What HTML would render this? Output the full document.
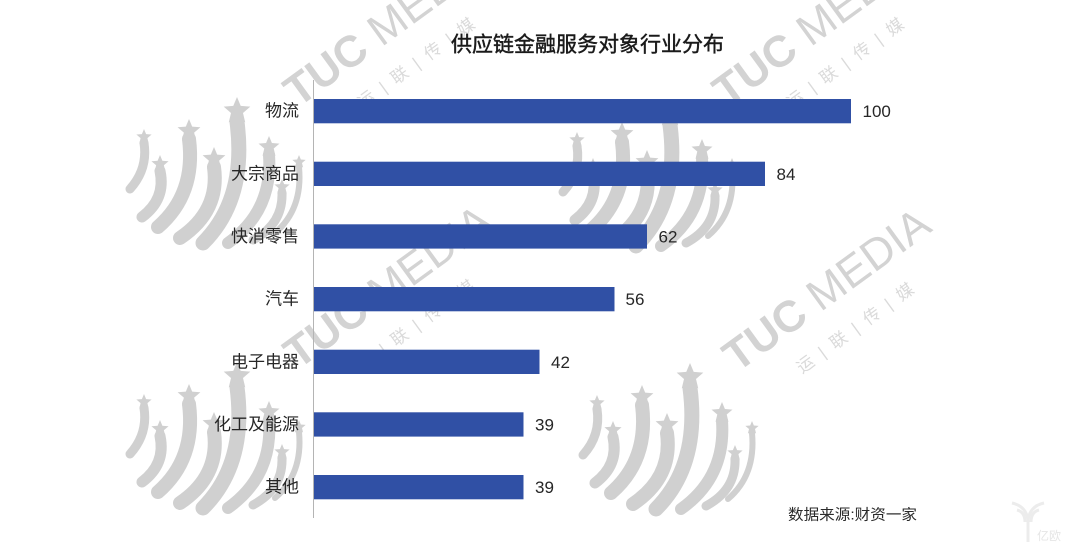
<!DOCTYPE html>
<html>
<head>
<meta charset="utf-8">
<style>
  html,body{margin:0;padding:0;background:#fff;}
  svg{display:block;}
  .cjk{font-family:"Liberation Sans","Noto Sans CJK SC","WenQuanYi Zen Hei",sans-serif;}
  .num{font-family:"Liberation Sans",sans-serif;}
</style>
</head>
<body>
<svg width="1080" height="551" viewBox="0 0 1080 551" xmlns="http://www.w3.org/2000/svg">
  <defs>
    <polygon id="st" points="0,-1 0.265,-0.364 0.951,-0.309 0.428,0.139 0.588,0.809 0,0.45 -0.588,0.809 -0.428,0.139 -0.951,-0.309 -0.265,-0.364"/>
    <g id="logo">
      <g fill="none" stroke="#d0d0d0" stroke-linecap="round">
        <path d="M14,46 Q18,72 0,92" stroke-width="9"/>
        <path d="M30,74 Q36,102 12,120" stroke-width="11"/>
        <path d="M59,42 Q66,97 28,130" stroke-width="14"/>
        <path d="M84,70 Q90,114 50,141" stroke-width="14"/>
        <path d="M107,25 Q117,102 73,146" stroke-width="15"/>
        <path d="M139,58 Q143,114 98,146" stroke-width="12"/>
        <path d="M152,96 Q153,127 123,143" stroke-width="9"/>
        <path d="M169,70 Q173,112 145,136" stroke-width="6"/>
      </g>
      <g fill="#d0d0d0">
        <use href="#st" transform="translate(107,14) scale(14)"/>
        <use href="#st" transform="translate(59,34) scale(12)"/>
        <use href="#st" transform="translate(14,40) scale(8)"/>
        <use href="#st" transform="translate(84,62) scale(12)"/>
        <use href="#st" transform="translate(139,50) scale(11)"/>
        <use href="#st" transform="translate(30,67) scale(9)"/>
        <use href="#st" transform="translate(169,65) scale(7)"/>
        <use href="#st" transform="translate(152,90) scale(8)"/>
      </g>
    </g>
  </defs>

  <rect width="1080" height="551" fill="#ffffff"/>

  <!-- watermark logos -->
  <use href="#logo" transform="translate(130,97)"/>
  <use href="#logo" transform="translate(563,100)"/>
  <use href="#logo" transform="translate(130,362)"/>
  <use href="#logo" transform="translate(583,363)"/>

  <!-- watermark texts -->
  <g class="num" fill="#d3d3d3">
    <g transform="translate(298,108) rotate(-36)">
      <text x="0" y="0" font-size="44" textLength="243" lengthAdjust="spacing"><tspan font-weight="bold">TUC</tspan> MEDIA</text>
      <text x="52" y="39" class="cjk" font-size="17" fill="#dadada" textLength="140" lengthAdjust="spacing">运 | 联 | 传 | 媒</text>
    </g>
    <g transform="translate(727,108) rotate(-36)">
      <text x="0" y="0" font-size="44" textLength="243" lengthAdjust="spacing"><tspan font-weight="bold">TUC</tspan> MEDIA</text>
      <text x="52" y="39" class="cjk" font-size="17" fill="#dadada" textLength="140" lengthAdjust="spacing">运 | 联 | 传 | 媒</text>
    </g>
    <g transform="translate(298,370) rotate(-36)">
      <text x="0" y="0" font-size="44" textLength="243" lengthAdjust="spacing"><tspan font-weight="bold">TUC</tspan> MEDIA</text>
      <text x="52" y="39" class="cjk" font-size="17" fill="#dadada" textLength="140" lengthAdjust="spacing">运 | 联 | 传 | 媒</text>
    </g>
    <g transform="translate(737,373) rotate(-36)">
      <text x="0" y="0" font-size="44" textLength="243" lengthAdjust="spacing"><tspan font-weight="bold">TUC</tspan> MEDIA</text>
      <text x="52" y="39" class="cjk" font-size="17" fill="#dadada" textLength="140" lengthAdjust="spacing">运 | 联 | 传 | 媒</text>
    </g>
  </g>

  <!-- 亿欧 corner mark -->
  <g fill="none" stroke="#ececec" stroke-width="3">
    <path d="M1012,503 Q1026,506 1028,520 L1028,542"/>
    <path d="M1044,503 Q1030,506 1028,520"/>
    <path d="M1017,510 Q1025,512 1025,522"/>
    <path d="M1039,510 Q1031,512 1031,522"/>
  </g>
  <text x="1037" y="540" class="cjk" font-size="12" fill="#e6e6e6">亿欧</text>

  <!-- title -->
  <text x="587.5" y="45" class="cjk" font-size="21" fill="#1a1a1a" stroke="#1a1a1a" stroke-width="0.45" text-anchor="middle" dominant-baseline="central">供应链金融服务对象行业分布</text>

  <!-- bars -->
  <g fill="#3050a5">
    <rect x="314" y="99"    width="537" height="24.3"/>
    <rect x="314" y="161.7" width="451" height="24.3"/>
    <rect x="314" y="224.3" width="333" height="24.3"/>
    <rect x="314" y="287"   width="300.5" height="24.3"/>
    <rect x="314" y="349.7" width="225.5" height="24.3"/>
    <rect x="314" y="412.3" width="209.5" height="24.3"/>
    <rect x="314" y="475"   width="209.5" height="24.3"/>
  </g>

  <!-- axis -->
  <line x1="313.5" y1="80" x2="313.5" y2="518" stroke="#b4b4b4" stroke-width="1"/>

  <!-- category labels -->
  <g class="cjk" font-size="17" fill="#262626" text-anchor="end" dominant-baseline="central">
    <text x="299" y="111">物流</text>
    <text x="299" y="173.8">大宗商品</text>
    <text x="299" y="236.5">快消零售</text>
    <text x="299" y="299.2">汽车</text>
    <text x="299" y="361.8">电子电器</text>
    <text x="299" y="424.5">化工及能源</text>
    <text x="299" y="487.2">其他</text>
  </g>

  <!-- value labels -->
  <g class="num" font-size="17" fill="#262626">
    <text x="862.5" y="117">100</text>
    <text x="776.5" y="179.8">84</text>
    <text x="658.5" y="242.5">62</text>
    <text x="625.5" y="305.2">56</text>
    <text x="551" y="367.8">42</text>
    <text x="535" y="430.5">39</text>
    <text x="535" y="493.2">39</text>
  </g>

  <!-- source -->
  <text x="788" y="515" class="cjk" font-size="15" fill="#2a2a2a" dominant-baseline="central" textLength="129" lengthAdjust="spacingAndGlyphs">数据来源:财资一家</text>
</svg>
</body>
</html>
